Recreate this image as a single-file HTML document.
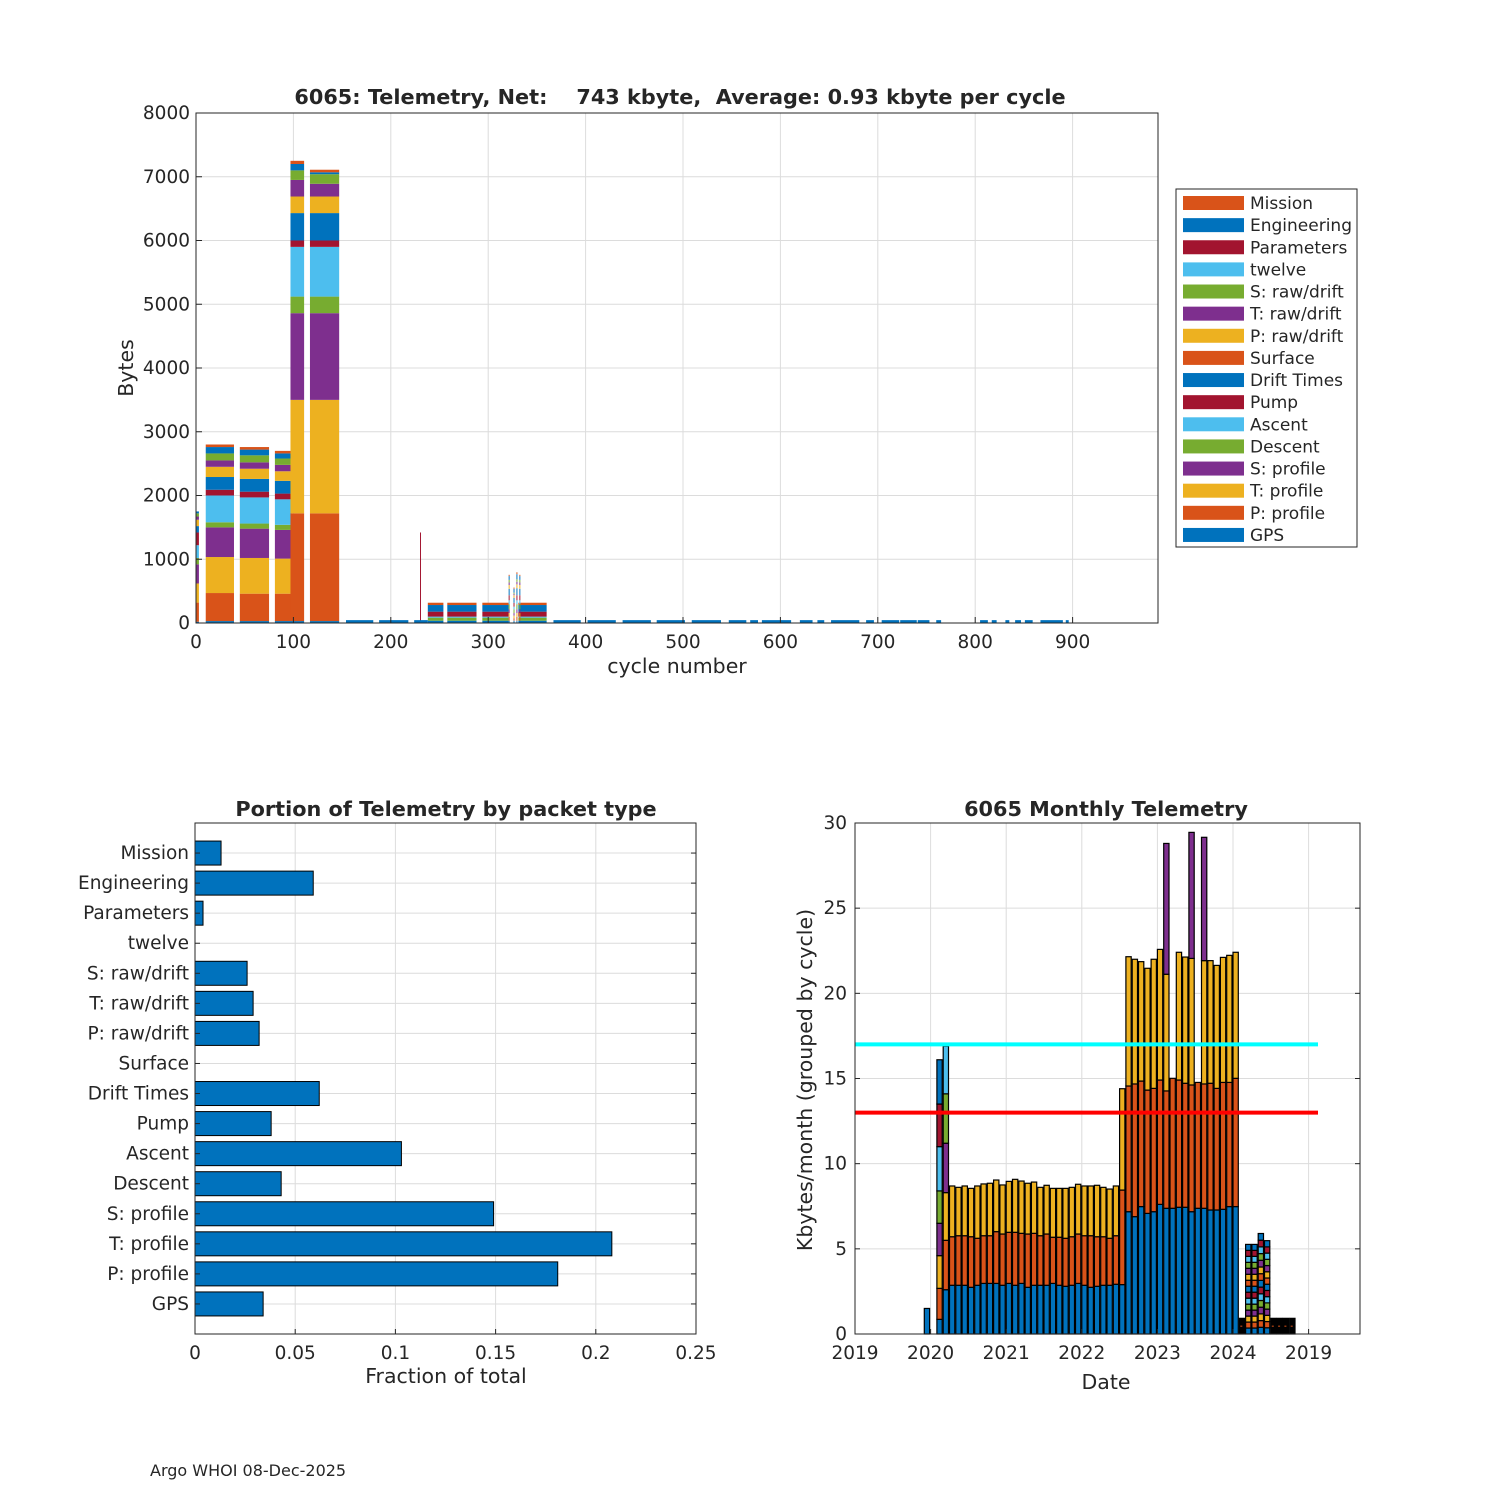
<!DOCTYPE html>
<html><head><meta charset="utf-8"><style>
body{margin:0;background:#fff}
svg text{font-family:"DejaVu Sans","Liberation Sans",sans-serif;fill:#262626;white-space:pre}
</style></head><body>
<svg id="s" width="1500" height="1500" viewBox="0 0 1500 1500" xmlns="http://www.w3.org/2000/svg">
<rect width="1500" height="1500" fill="#fff"/>
<g id="top"></g>
<g id="bl"></g>
<g id="br"></g>
<text x="150" y="1476" font-size="16">Argo WHOI 08-Dec-2025</text>
</svg>
<script>
// ---------- data: top chart ----------
const layerNames=["GPS","P: profile","T: profile","S: profile","Descent","Ascent","Pump","Drift Times","Surface","P: raw/drift","T: raw/drift","S: raw/drift","twelve","Parameters","Engineering","Mission"];
const layerColors=["#0072BD","#D95319","#EDB120","#7E2F8E","#77AC30","#4DBEEE","#A2142F","#0072BD","#D95319","#EDB120","#7E2F8E","#77AC30","#4DBEEE","#A2142F","#0072BD","#D95319"];
const blockStart=[0,10,45,81,97,117,238,258,294,331,230,321,326,329,332];
const blockEnd=[2,38,74,97,110,146,253,287,320,359,230,321,326,329,332];
const blockLayers=[
[20,300,300,300,100,200,200,100,0,100,50,50,0,0,30,0],
[30,440,565,465,80,420,90,200,0,160,100,110,0,0,100,40],
[30,430,560,460,80,410,90,200,0,160,100,110,0,0,90,40],
[30,430,550,450,80,400,90,200,0,150,100,100,0,0,80,40],
[30,1690,1780,1360,260,780,100,430,0,260,260,150,0,0,100,50],
[30,1690,1780,1360,260,780,100,430,0,260,200,150,0,0,30,40],
[36,0,0,0,48,16,78,104,0,0,0,0,0,0,0,36],
[36,0,0,0,48,16,78,104,0,0,0,0,0,0,0,36],
[36,0,0,0,48,16,78,104,0,0,0,0,0,0,0,36],
[36,0,0,0,48,16,78,104,0,0,0,0,0,0,0,36],
[0,0,0,0,0,0,1420,0,0,0,0,0,0,0,0,0],
[36,60,60,60,80,60,80,100,0,60,40,40,0,0,60,20],
[36,40,40,40,60,40,60,80,0,40,20,20,0,0,60,20],
[36,60,60,60,80,60,80,110,0,60,40,40,0,0,80,30],
[36,60,60,60,80,60,80,100,0,60,40,40,0,0,60,20]];
const gpsStart=[154,188,224,367,402,438,473,509,547,569,581,620,638,652,688,704,723,741,760,805,817,831,841,851,867,893];
const gpsEnd=[181,217,237,394,430,466,501,538,564,576,610,632,644,680,695,721,739,752,764,812,821,834,846,858,889,895];
const gpsBytes=45;
const xTicksTop=[0,100,200,300,400,500,600,700,800,900];
const yTicksTop=[0,1000,2000,3000,4000,5000,6000,7000,8000];
// ---------- data: fraction chart ----------
const catNames=["GPS","P: profile","T: profile","S: profile","Descent","Ascent","Pump","Drift Times","Surface","P: raw/drift","T: raw/drift","S: raw/drift","twelve","Parameters","Engineering","Mission"];
const catFrac=[0.034,0.181,0.208,0.149,0.043,0.103,0.038,0.062,0,0.032,0.029,0.026,0,0.004,0.059,0.013];
const fracTicks=[0,0.05,0.1,0.15,0.2,0.25];
const fracTickLabels=["0","0.05","0.1","0.15","0.2","0.25"];
// ---------- data: monthly chart ----------
const regMonths=["2020-04","2020-05","2020-06","2020-07","2020-08","2020-09","2020-10","2020-11","2020-12","2021-01","2021-02","2021-03","2021-04","2021-05","2021-06","2021-07","2021-08","2021-09","2021-10","2021-11","2021-12","2022-01","2022-02","2022-03","2022-04","2022-05","2022-06","2022-07","2022-08","2022-09","2022-10","2022-11","2022-12","2023-01","2023-02","2023-03","2023-04","2023-05","2023-06","2023-07","2023-08","2023-09","2023-10","2023-11","2023-12","2024-01"];
const regBlue=[2.86,2.86,2.86,2.74,2.86,2.97,2.97,2.97,2.86,2.97,2.86,2.97,2.74,2.86,2.86,2.86,2.97,2.86,2.80,2.86,2.97,2.86,2.74,2.80,2.86,2.86,2.92,2.9,7.18,6.89,7.48,7.08,7.18,7.61,7.38,7.38,7.44,7.44,7.18,7.38,7.38,7.28,7.28,7.32,7.48,7.48];
const regOrange=[5.71,5.77,5.77,5.71,5.62,5.77,5.77,6.01,5.87,5.97,5.97,5.91,5.87,5.91,5.77,5.87,5.68,5.68,5.62,5.71,5.87,5.77,5.77,5.71,5.71,5.62,5.77,8.45,14.56,14.68,14.85,14.32,14.42,14.91,14.27,15.01,14.91,14.72,14.62,14.77,14.68,14.72,14.42,14.77,14.77,15.01];
const regYellow=[8.69,8.61,8.69,8.55,8.69,8.81,8.85,9.04,8.75,8.96,9.08,8.98,8.85,8.92,8.61,8.73,8.55,8.55,8.55,8.61,8.79,8.69,8.69,8.73,8.61,8.51,8.69,14.4,22.15,22.0,21.86,21.47,22.0,22.58,21.12,15.01,22.41,22.13,22.05,14.77,21.92,21.92,21.64,22.11,22.23,22.41];
const regPurple=[0,0,0,0,0,0,0,0,0,0,0,0,0,0,0,0,0,0,0,0,0,0,0,0,0,0,0,0,0,0,0,0,0,0,28.8,0,0,0,29.45,0,29.16,0,0,0,0,0];
const earlyMonths=["2019-12","2020-02","2020-03"];
const earlyCum=[[1.5],[0.86,2.68,4.6,6.5,8.4,11.0,13.5,16.1],[2.6,5.5,8.3,11.2,14.1,16.9]];
const mixMonths=["2024-03","2024-04","2024-05","2024-06"];
const mixTotals=[5.26,5.26,5.9,5.48];
const mixSegs=[15,15,15,15];
const blackMonths=["2024-02","2024-07","2024-08","2024-09","2024-10"];
const blackVals=[0.92,0.92,0.92,0.92,0.92];
const yTicksMon=[0,5,10,15,20,25,30];
const xTicksMon=[2019,2020,2021,2022,2023,2024,2025];
const xTickLabelsMon=["2019","2020","2021","2022","2023","2024","2019"];
const cyanLevel=17, redLevel=13;

const NS="http://www.w3.org/2000/svg";
function mk(p,t,a,txt){const e=document.createElementNS(NS,t);for(const k in a)e.setAttribute(k,a[k]);if(txt!==undefined)e.textContent=txt;p.appendChild(e);return e;}
const grid="#dcdcdc", ax="#262626";
const TK=18.5, AT=20.5, TT=20.8;

// ---------- top chart ----------
(function(){
const g=document.getElementById('top');
const L=196,R=1158,T=113,B=623;
const xs=c=>L+c*0.974, ys=v=>B-v*(B-T)/8000;
xTicksTop.forEach(t=>{const e=mk(g,'line',{x1:xs(t),x2:xs(t),y1:T,y2:B,stroke:grid});});
yTicksTop.forEach(t=>{const e=mk(g,'line',{x1:L,x2:R,y1:ys(t),y2:ys(t),stroke:grid});});
blockStart.forEach((s,i)=>{let cum=0;const x0=xs(s),x1=xs(blockEnd[i]+1);
 blockLayers[i].forEach((v,k)=>{if(v<=0)return;const r=mk(g,'rect',{x:x0,y:ys(cum+v),width:x1-x0,height:ys(cum)-ys(cum+v),fill:layerColors[k]});
 cum+=v;});});
gpsStart.forEach((s,i)=>{const r=mk(g,'rect',{x:xs(s),y:ys(gpsBytes),width:xs(gpsEnd[i]+1)-xs(s),height:ys(0)-ys(gpsBytes),fill:layerColors[0]});
 });
mk(g,'rect',{x:L,y:T,width:R-L,height:B-T,fill:'none',stroke:ax});
xTicksTop.forEach(t=>{mk(g,'line',{x1:xs(t),x2:xs(t),y1:B,y2:B-6,stroke:ax});const e=mk(g,'text',{x:xs(t),y:B+25,'font-size':TK,'text-anchor':'middle'},String(t));});
yTicksTop.forEach(t=>{mk(g,'line',{x1:L,x2:L+6,y1:ys(t),y2:ys(t),stroke:ax});const e=mk(g,'text',{x:L-6,y:ys(t)+6,'font-size':TK,'text-anchor':'end'},String(t));});
let e=mk(g,'text',{x:680,y:104,'font-size':TT,'font-weight':'bold','text-anchor':'middle'},"6065: Telemetry, Net:    743 kbyte,  Average: 0.93 kbyte per cycle");

e=mk(g,'text',{x:677,y:673,'font-size':AT,'text-anchor':'middle'},"cycle number");
e=mk(g,'text',{x:133,y:368,'font-size':AT,'text-anchor':'middle',transform:'rotate(-90 133 368)'},"Bytes");
// legend
const lg=mk(g,'g',{});
mk(lg,'rect',{x:1176,y:189,width:181,height:358,fill:'#fff',stroke:ax});
for(let j=0;j<16;j++){const k=15-j;const cy=203+j*22.13;
 const r=mk(lg,'rect',{x:1183,y:cy-7,width:61,height:14,fill:layerColors[k]});
 const t=mk(lg,'text',{x:1250,y:cy+6,'font-size':17},layerNames[k]);}
})();

// ---------- fraction chart ----------
(function(){
const g=document.getElementById('bl');
const L=195,R=696,T=823,B=1334;
const xs=v=>L+v/0.25*(R-L), ys=i=>B-(i+1)*(B-T)/17;
fracTicks.forEach(t=>{const e=mk(g,'line',{x1:xs(t),x2:xs(t),y1:T,y2:B,stroke:grid});});
catNames.forEach((n,i)=>{mk(g,'line',{x1:L,x2:R,y1:ys(i),y2:ys(i),stroke:grid});});
catFrac.forEach((v,i)=>{if(v>0){const r=mk(g,'rect',{x:L,y:ys(i)-12,width:xs(v)-L,height:24,fill:'#0072BD',stroke:'#000','stroke-width':1});}
 mk(g,'line',{x1:L,x2:L+5,y1:ys(i),y2:ys(i),stroke:ax});mk(g,'line',{x1:R,x2:R-5,y1:ys(i),y2:ys(i),stroke:ax});
 const t=mk(g,'text',{x:L-6,y:ys(i)+6,'font-size':TK,'text-anchor':'end'},catNames[i]);});
mk(g,'rect',{x:L,y:T,width:R-L,height:B-T,fill:'none',stroke:ax});
fracTicks.forEach((t,i)=>{mk(g,'line',{x1:xs(t),x2:xs(t),y1:B,y2:B-5,stroke:ax});const e=mk(g,'text',{x:xs(t),y:B+25,'font-size':TK,'text-anchor':'middle'},fracTickLabels[i]);});
let e=mk(g,'text',{x:446,y:816,'font-size':TT,'font-weight':'bold','text-anchor':'middle'},"Portion of Telemetry by packet type");
e=mk(g,'text',{x:446,y:1383,'font-size':AT,'text-anchor':'middle'},"Fraction of total");
})();

// ---------- monthly chart ----------
(function(){
const g=document.getElementById('br');
const L=855,R=1360,T=823,B=1334;
const yr=m=>{const [y,mo]=m.split('-').map(Number);return y+(mo-1)/12;};
const xs=y=>L+(y-2019)*75.6, ys=v=>B-v*(B-T)/30;
const bw=5.3;
xTicksMon.forEach(t=>{const e=mk(g,'line',{x1:xs(t),x2:xs(t),y1:T,y2:B,stroke:grid});});
yTicksMon.forEach(t=>{const e=mk(g,'line',{x1:L,x2:R,y1:ys(t),y2:ys(t),stroke:grid});});
function seg(m,a,b,c,nm){const x=xs(yr(m));const r=mk(g,'rect',{x:x,y:ys(b),width:bw,height:ys(a)-ys(b),fill:c,stroke:'#000','stroke-width':1.2});}
const cyc=["#0072BD","#D95319","#EDB120","#7E2F8E","#77AC30","#4DBEEE","#A2142F"];
earlyMonths.forEach((m,i)=>{let prev=0;earlyCum[i].forEach((v,k)=>{seg(m,prev,v,cyc[k%7],'month-bar-segment');prev=v;});});
regMonths.forEach((m,i)=>{seg(m,0,regBlue[i],cyc[0],'month-bar-segment');seg(m,regBlue[i],regOrange[i],cyc[1],'month-bar-segment');
 if(regYellow[i]>regOrange[i])seg(m,regOrange[i],regYellow[i],cyc[2],'month-bar-segment');
 if(regPurple[i]>regYellow[i])seg(m,regYellow[i],regPurple[i],cyc[3],'month-bar-segment');});
mixMonths.forEach((m,i)=>{const h=mixTotals[i]/mixSegs[i];for(let k=0;k<mixSegs[i];k++)seg(m,k*h,(k+1)*h,cyc[k%7],'month-bar-segment');});
blackMonths.forEach((m,i)=>{seg(m,0,blackVals[i],'#000','month-bar-black');
 const x=xs(yr(m));mk(g,'line',{x1:x+1,x2:x+bw-1,y1:ys(blackVals[i]/2),y2:ys(blackVals[i]/2),stroke:'#D95319','stroke-dasharray':'2 1.5'});});
let e=mk(g,'line',{x1:L,x2:1318,y1:ys(cyanLevel),y2:ys(cyanLevel),stroke:'#00FFFF','stroke-width':4});
e=mk(g,'line',{x1:L,x2:1318,y1:ys(redLevel),y2:ys(redLevel),stroke:'#FF0000','stroke-width':4});
mk(g,'rect',{x:L,y:T,width:R-L,height:B-T,fill:'none',stroke:ax});
xTicksMon.forEach((t,i)=>{mk(g,'line',{x1:xs(t),x2:xs(t),y1:B,y2:B-5,stroke:ax});const e=mk(g,'text',{x:xs(t),y:B+25,'font-size':TK,'text-anchor':'middle'},xTickLabelsMon[i]);});
yTicksMon.forEach(t=>{mk(g,'line',{x1:L,x2:L+5,y1:ys(t),y2:ys(t),stroke:ax});mk(g,'line',{x1:R,x2:R-5,y1:ys(t),y2:ys(t),stroke:ax});const e=mk(g,'text',{x:L-8,y:ys(t)+6,'font-size':TK,'text-anchor':'end'},String(t));});
e=mk(g,'text',{x:1106,y:816,'font-size':TT,'font-weight':'bold','text-anchor':'middle'},"6065 Monthly Telemetry");
e=mk(g,'text',{x:1106,y:1389,'font-size':AT,'text-anchor':'middle'},"Date");
e=mk(g,'text',{x:812,y:1080,'font-size':AT,'text-anchor':'middle',transform:'rotate(-90 812 1080)'},"Kbytes/month (grouped by cycle)");
})();
</script>
</body></html>
